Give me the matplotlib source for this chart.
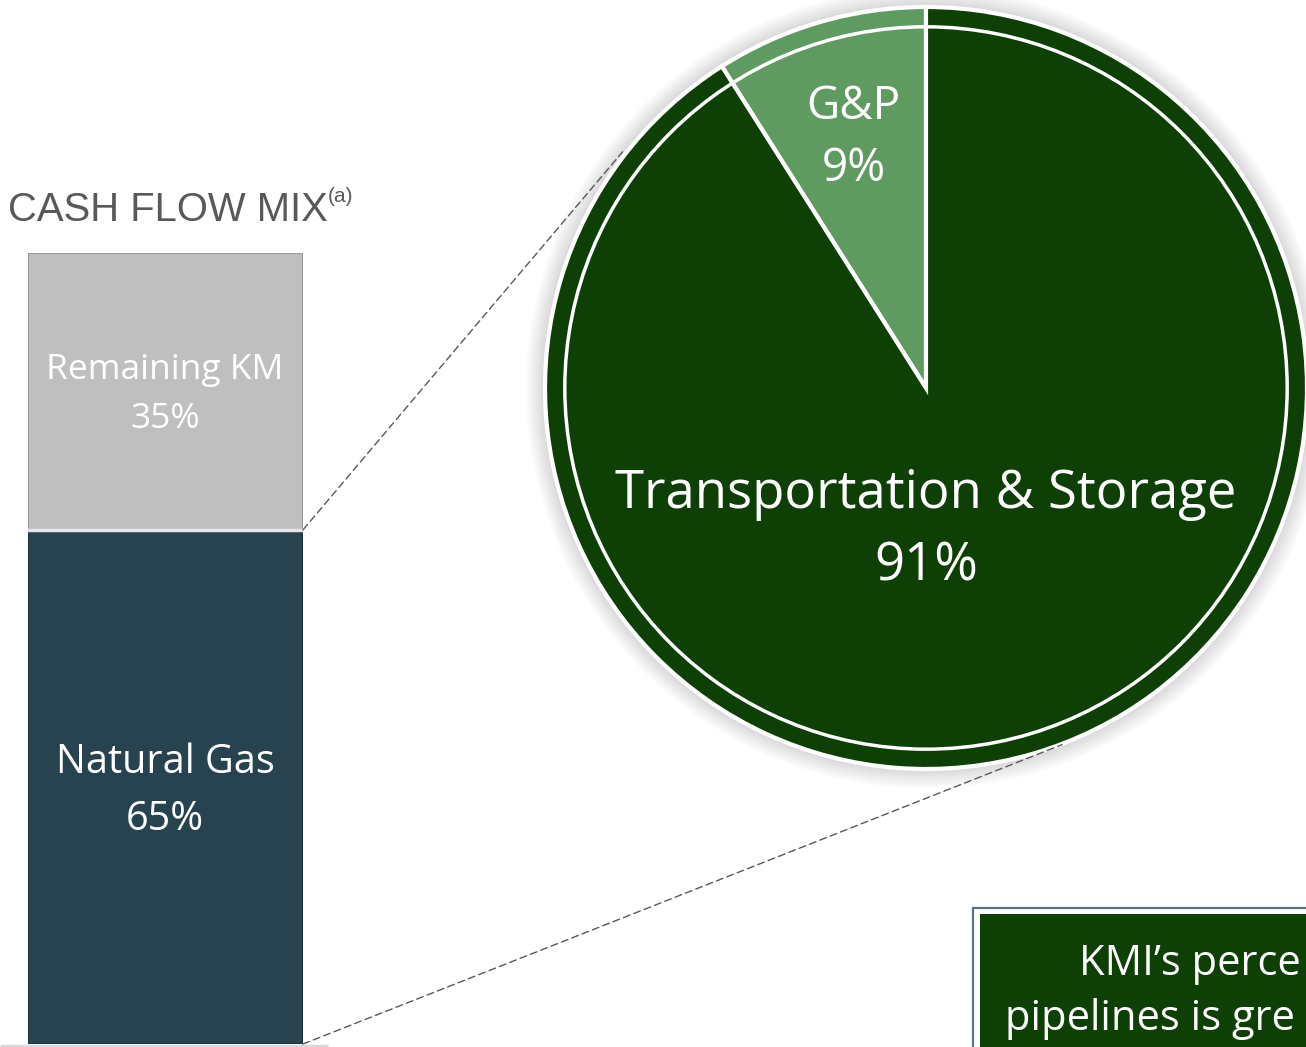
import numpy as np
import matplotlib

matplotlib.use("Agg")
import matplotlib.pyplot as plt
from matplotlib.patches import Circle, Rectangle
from matplotlib.patches import ConnectionPatch

W, H = 1306, 1047

# data
bar_labels = ["Natural Gas", "Remaining KM"]
bar_values = [65, 35]
bar_colors = ["#27434f", "#bfbfbf"]

pie_labels = ["G&P", "Transportation & Storage"]
pie_values = [9, 91]
pie_colors = ["#5f9b61", "#0e4005"]

title_text = "CASH FLOW MIX"
# the callout is cut off by the slide edge in the source
box_lines = ["KMI\u2019s perce", "pipelines is gre"]

SEGOE = ["Open Sans", "DejaVu Sans"]

fig = plt.figure(figsize=(W / 100, H / 100), dpi=100)

# background canvas in pixel coords
ax_bg = fig.add_axes([0, 0, 1, 1])
ax_bg.set_xlim(0, W)
ax_bg.set_ylim(H, 0)
ax_bg.axis("off")

ax_bg.text(8, 221, title_text, fontsize=28.8, color="#595959",
           family=["Liberation Sans"], ha="left", va="baseline")
ax_bg.text(328, 202, "(a)", fontsize=15, color="#595959",
           family=["Liberation Sans"], ha="left", va="baseline")

# bottom baseline under the bar
ax_bg.plot([0, 328], [1046, 1046], color="#d9d9d9", linewidth=2.5, solid_capstyle="butt")

# callout box at lower right
ax_bg.add_patch(Rectangle((973, 908), 400, 200, facecolor="white", edgecolor="#5b7384", linewidth=1.6))
ax_bg.add_patch(Rectangle((980, 914), 400, 200, facecolor="#0e4005", edgecolor="none"))
ax_bg.text(1079, 975, box_lines[0], fontsize=30, color="white", family=SEGOE, ha="left", va="baseline")
ax_bg.text(1005, 1030, box_lines[1], fontsize=30, color="white", family=SEGOE, ha="left", va="baseline")

# stacked bar
bar_left, bar_right, bar_top, bar_bottom = 28, 303, 253, 1044
ax_bar = fig.add_axes([bar_left / W, (H - bar_bottom) / H, (bar_right - bar_left) / W, (bar_bottom - bar_top) / H])
bottom = 0
for value, color in zip(bar_values, bar_colors):
    edge = "#1d333c" if color == bar_colors[0] else "#9c9c9c"
    ax_bar.bar(0, value, bottom=bottom, width=1.0, color=color, edgecolor=edge, linewidth=1.5)
    bottom += value
ax_bar.axhline(bar_values[0], color="#e6e6e6", linewidth=2.5)
ax_bar.set_xlim(-0.5, 0.5)
ax_bar.set_ylim(0, sum(bar_values))
ax_bar.axis("off")

# bar labels (drawn with the bar axes so they sit on top of the bars)
ax_bar.text(165, 370, bar_labels[1], fontsize=25.5, color="white", family=SEGOE,
            ha="center", va="center", transform=ax_bg.transData)
ax_bar.text(165, 419, f"{bar_values[1]}%", fontsize=25.5, color="white", family=SEGOE,
            ha="center", va="center", transform=ax_bg.transData)
ax_bar.text(165, 763, bar_labels[0], fontsize=28.5, color="white", family=SEGOE,
            ha="center", va="center", transform=ax_bg.transData)
ax_bar.text(165, 820, f"{bar_values[0]}%", fontsize=28.5, color="white", family=SEGOE,
            ha="center", va="center", transform=ax_bg.transData)

# pie
cx, cy, r = 926, 388, 381
ax_pie = fig.add_axes([(cx - r) / W, (H - cy - r) / H, 2 * r / W, 2 * r / H])
ax_pie.set_xlim(-1, 1)
ax_pie.set_ylim(-1, 1)
ax_pie.set_aspect("equal")
ax_pie.axis("off")

# soft glow around the pie
for rad in np.linspace(1.05, 1.005, 8):
    ax_pie.add_patch(Circle((0, 0), rad, facecolor="#000000", edgecolor="none",
                            alpha=0.02, zorder=0, clip_on=False))

ax_pie.pie(pie_values, colors=pie_colors, startangle=90, counterclock=True, radius=1.0,
           wedgeprops=dict(edgecolor="white", linewidth=3, zorder=2, clip_on=False))
ax_pie.set_xlim(-1, 1)
ax_pie.set_ylim(-1, 1)
ax_pie.add_patch(Circle((0, 0), 0.948, fill=False, edgecolor="white", linewidth=2.5, zorder=3))

ax_pie.text(-0.19, 0.737, pie_labels[0], fontsize=33, color="white", family=SEGOE, ha="center", va="center", zorder=4)
ax_pie.text(-0.19, 0.575, f"{pie_values[0]}%", fontsize=33, color="white", family=SEGOE, ha="center", va="center", zorder=4)
ax_pie.text(0, -0.28, pie_labels[1], fontsize=38, color="white", family=SEGOE, ha="center", va="center", zorder=4)
ax_pie.text(0, -0.47, f"{pie_values[1]}%", fontsize=38, color="white", family=SEGOE, ha="center", va="center", zorder=4)

# dashed connectors from bar to pie
for bar_y, ang in [(bar_values[0], 141.7), (0, -69.4)]:
    a = np.deg2rad(ang)
    con = ConnectionPatch(xyA=(0.5, bar_y), coordsA=ax_bar.transData,
                          xyB=(np.cos(a) * 1.015, np.sin(a) * 1.0), coordsB=ax_pie.transData,
                          color="#595959", linestyle=(0, (5, 3)), linewidth=1.0)
    fig.add_artist(con)

fig.savefig("out.png", dpi=100)
